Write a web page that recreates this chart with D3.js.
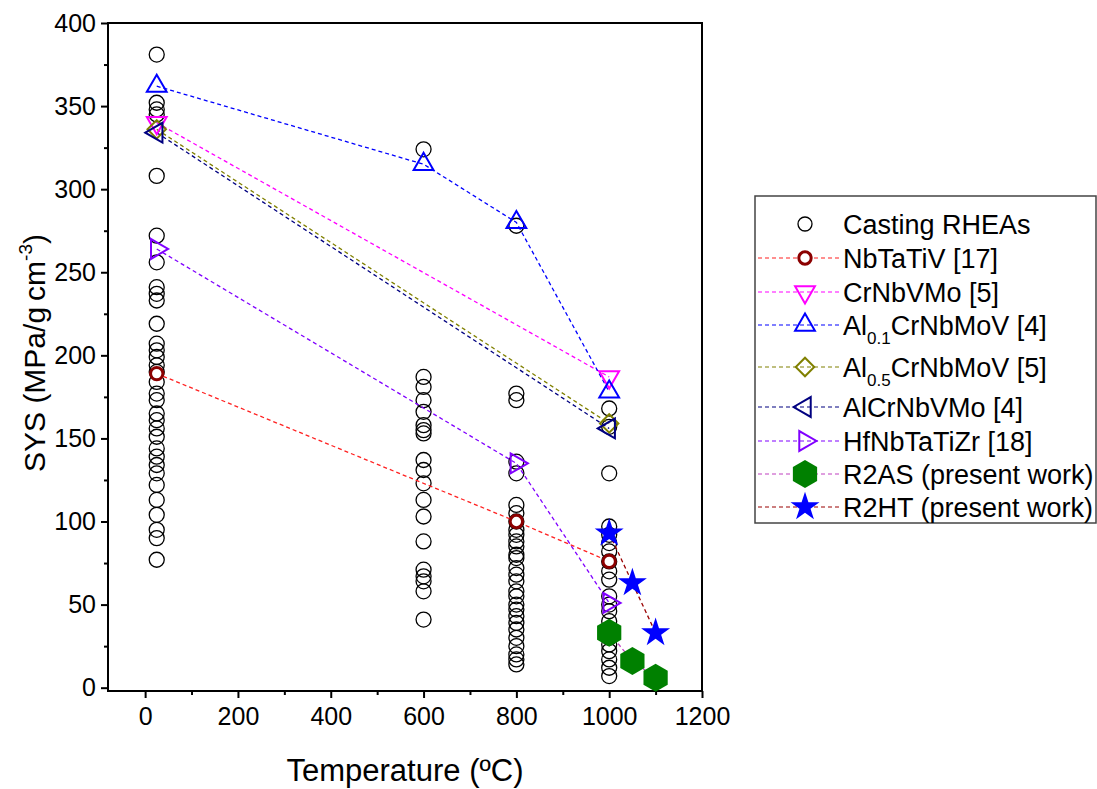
<!DOCTYPE html>
<html>
<head>
<meta charset="utf-8">
<script src="https://cdn.jsdelivr.net/npm/d3@7"></script>
<style>
  body { margin: 0; background: #fff; }
  text { font-family: 'Liberation Sans', Arial, sans-serif; fill: #000; }
</style>
</head>
<body>
<svg id="chart" width="1097" height="789"></svg>
<script>
// Casting RHEAs (temperature -> list of SYS values)
var casting25 = [381, 352, 348, 345, 308, 272, 256, 241, 237, 233, 219, 207, 203, 199, 194, 190, 184, 177,
  173, 165, 161, 156, 151, 144, 139, 134, 129, 122, 113, 104, 95, 90, 77]
var casting600 = [324, 187, 181, 173, 166, 158, 155, 153, 137, 131, 123, 113, 103, 88, 71, 67, 64, 58, 41]
var casting800 = [278, 177, 173, 136, 129, 110, 105, 100, 95, 92, 88, 85, 80, 78, 72, 68, 64, 58, 55, 50,
  47, 43, 39, 35, 30, 25, 20, 17, 14]
var casting1000 = [168, 157, 129, 97, 92, 87, 82, 76, 70, 65, 55, 50, 46, 40, 35, 30, 26, 22, 17, 12, 7]

// Reference alloys and present work: [temperature, SYS]
var nbTaTiV = [[25, 189], [800, 100], [1000, 76]]
var crNbVMo = [[25, 340], [1000, 187]]
var al01CrNbMoV = [[25, 362], [600, 315], [800, 280], [1000, 178]]
var al05CrNbMoV = [[25, 336], [1000, 159]]
var alCrNbVMo = [[25, 334], [1000, 156]]
var hfNbTaTiZr = [[25, 264], [800, 135], [1000, 51]]
var r2as = [[1000, 33], [1050, 16], [1100, 6]]
var r2ht = [[1000, 93], [1050, 63], [1100, 33]]

var xTicks = [0, 200, 400, 600, 800, 1000, 1200]
var yTicks = [0, 50, 100, 150, 200, 250, 300, 350, 400]

var svg = d3.select('#chart')

var xPositionScale = d3.scaleLinear().domain([-80, 1200]).range([108, 702])
var yPositionScale = d3.scaleLinear().domain([-2, 400]).range([691, 23])

// series styles
var series = [
  { label: ['NbTaTiV [17]'], data: nbTaTiV, line: '#ff2020', marker: 'circle', stroke: '#8b0000', fill: '#fff', size: 120, sw: 3 },
  { label: ['CrNbVMo [5]'], data: crNbVMo, line: '#ff00ff', marker: 'triDown', stroke: '#ff00ff', fill: 'none', size: 170, sw: 2 },
  { label: ['Al', '0.1', 'CrNbMoV [4]'], data: al01CrNbMoV, line: '#0000ff', marker: 'triUp', stroke: '#0000ff', fill: 'none', size: 170, sw: 2 },
  { label: ['Al', '0.5', 'CrNbMoV [5]'], data: al05CrNbMoV, line: '#808000', marker: 'diamond', stroke: '#808000', fill: 'none', size: 170, sw: 2 },
  { label: ['AlCrNbVMo [4]'], data: alCrNbVMo, line: '#000080', marker: 'triLeft', stroke: '#000080', fill: 'none', size: 170, sw: 2 },
  { label: ['HfNbTaTiZr [18]'], data: hfNbTaTiZr, line: '#8000ff', marker: 'triRight', stroke: '#8000ff', fill: 'none', size: 170, sw: 2 },
  { label: ['R2AS (present work)'], data: r2as, line: '#c040c0', marker: 'hexagon', stroke: 'none', fill: '#008000', size: 14, sw: 0 },
  { label: ['R2HT (present work)'], data: r2ht, line: '#990000', marker: 'star', stroke: 'none', fill: '#0000ff', size: 260, sw: 0 }
]

function markerPath(kind, size) {
  if (kind === 'hexagon') {
    var pts = d3.range(6).map(function(i) {
      var a = Math.PI / 3 * i
      return [size * Math.sin(a), -size * Math.cos(a)]
    })
    return d3.line().curve(d3.curveLinearClosed)(pts)
  }
  var type = {
    circle: d3.symbolCircle, triUp: d3.symbolTriangle, triDown: d3.symbolTriangle,
    triLeft: d3.symbolTriangle, triRight: d3.symbolTriangle, diamond: d3.symbolSquare, star: d3.symbolStar
  }[kind]
  return d3.symbol().type(type).size(size)()
}

var rotation = { triDown: 180, triLeft: -90, triRight: 90, diamond: 45 }

function drawMarker(g, s, cx, cy) {
  g.append('path')
    .attr('d', markerPath(s.marker, s.size))
    .attr('transform', `translate(${cx},${cy}) rotate(${rotation[s.marker] || 0})`)
    .attr('fill', s.fill)
    .attr('stroke', s.stroke)
    .attr('stroke-width', s.sw)
}

// axes
var yAxis = d3.axisLeft(yPositionScale).tickValues(yTicks).tickSize(7).tickPadding(5).tickFormat(d3.format('d'))
svg.append('g')
  .attr('class', 'axis y-axis')
  .attr('transform', 'translate(108,0)')
  .call(yAxis)
var yMinor = d3.axisLeft(yPositionScale).tickValues(d3.range(25, 400, 50)).tickSize(4).tickFormat('')
svg.append('g').attr('transform', 'translate(108,0)').call(yMinor)

var xAxis = d3.axisBottom(xPositionScale).tickValues(xTicks).tickSize(7).tickPadding(9).tickFormat(d3.format('d'))
svg.append('g')
  .attr('class', 'axis x-axis')
  .attr('transform', 'translate(0,691)')
  .call(xAxis)
var xMinor = d3.axisBottom(xPositionScale).tickValues(d3.range(100, 1200, 200)).tickSize(4).tickFormat('')
svg.append('g').attr('transform', 'translate(0,691)').call(xMinor)

svg.selectAll('.domain').remove()
svg.selectAll('.tick line').attr('stroke', '#000').attr('stroke-width', 2)
svg.selectAll('.axis text').attr('font-size', 25).attr('fill', '#000')

svg.append('rect')
  .attr('x', 108).attr('y', 23)
  .attr('width', 702 - 108).attr('height', 691 - 23)
  .attr('fill', 'none').attr('stroke', '#000').attr('stroke-width', 2)

// axis titles
svg.append('text')
  .attr('x', 405).attr('y', 781)
  .attr('text-anchor', 'middle')
  .attr('font-size', 31)
  .text('Temperature (ºC)')

var yTitle = svg.append('text')
  .attr('transform', 'translate(45,353) rotate(-90)')
  .attr('text-anchor', 'middle')
  .attr('font-size', 30)
yTitle.append('tspan').text('SYS (MPa/g\u2009cm')
yTitle.append('tspan').attr('font-size', 19).attr('dy', -13).text('-3')
yTitle.append('tspan').attr('dy', 13).text(')')

// casting RHEAs scatter
var castingPoints = []
casting25.forEach(function(v) { castingPoints.push([25, v]) })
casting600.forEach(function(v) { castingPoints.push([600, v]) })
casting800.forEach(function(v) { castingPoints.push([800, v]) })
casting1000.forEach(function(v) { castingPoints.push([1000, v]) })

svg.append('g')
  .selectAll('circle')
  .data(castingPoints)
  .enter()
  .append('circle')
  .attr('cx', d => xPositionScale(d[0]))
  .attr('cy', d => yPositionScale(d[1]))
  .attr('r', 7.5)
  .attr('fill', 'none')
  .attr('stroke', '#000')
  .attr('stroke-width', 1.3)

// series lines
var line = d3.line()
  .x(d => xPositionScale(d[0]))
  .y(d => yPositionScale(d[1]))

series.forEach(function(s) {
  svg.append('path')
    .datum(s.data)
    .attr('d', line)
    .attr('fill', 'none')
    .attr('stroke', s.line)
    .attr('stroke-width', 1.3)
    .attr('stroke-dasharray', '4,3')
})

// series markers
series.forEach(function(s) {
  var g = svg.append('g')
  s.data.forEach(function(d) {
    drawMarker(g, s, xPositionScale(d[0]), yPositionScale(d[1]))
  })
})

// legend
var legend = svg.append('g')
legend.append('rect')
  .attr('x', 755).attr('y', 196)
  .attr('width', 341).attr('height', 327)
  .attr('fill', '#fff').attr('stroke', '#444').attr('stroke-width', 1.5)

var rowY = [224, 258, 292, 325, 367, 407, 441, 474, 507]

legend.append('circle')
  .attr('cx', 805).attr('cy', rowY[0])
  .attr('r', 7).attr('fill', 'none').attr('stroke', '#000').attr('stroke-width', 1.3)
legend.append('text')
  .attr('x', 843).attr('y', rowY[0] + 10)
  .attr('font-size', 27)
  .text('Casting RHEAs')

series.forEach(function(s, i) {
  var yy = rowY[i + 1]
  legend.append('line')
    .attr('x1', 758).attr('x2', 840)
    .attr('y1', yy).attr('y2', yy)
    .attr('stroke', s.line).attr('stroke-width', 1.2)
    .attr('stroke-dasharray', '4,3')
  drawMarker(legend, s, 805, yy)
  var t = legend.append('text')
    .attr('x', 843).attr('y', yy + 10)
    .attr('font-size', 27)
  t.append('tspan').text(s.label[0])
  if (s.label.length > 1) {
    t.append('tspan').attr('font-size', 17).attr('dy', 9).text(s.label[1])
    t.append('tspan').attr('dy', -9).text(s.label[2])
  }
})
</script>
</body>
</html>
